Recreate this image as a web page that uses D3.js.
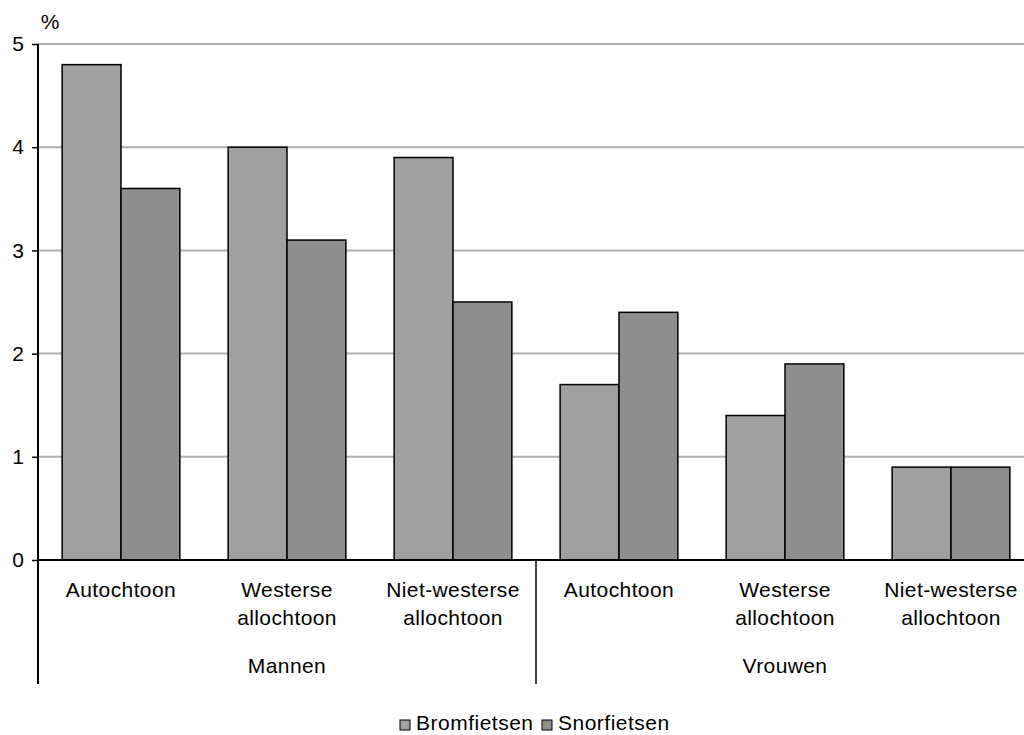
<!DOCTYPE html>
<html><head><meta charset="utf-8">
<script src="https://cdn.jsdelivr.net/npm/d3@7"></script>
<style>body{margin:0;background:#fff}svg{display:block;font-family:"Liberation Sans",Arial,sans-serif}</style>
</head><body><svg id="c" width="1024" height="735"></svg>
<script>
const groups = ["Mannen", "Vrouwen"];
const categories = ["Autochtoon", "Westerse allochtoon", "Niet-westerse allochtoon",
                    "Autochtoon", "Westerse allochtoon", "Niet-westerse allochtoon"];
const categoryLines = [["Autochtoon"], ["Westerse", "allochtoon"], ["Niet-westerse", "allochtoon"],
                       ["Autochtoon"], ["Westerse", "allochtoon"], ["Niet-westerse", "allochtoon"]];
const seriesNames = ["Bromfietsen", "Snorfietsen"];
const bromfietsen = [4.8, 4.0, 3.9, 1.7, 1.4, 0.9];
const snorfietsen = [3.6, 3.1, 2.5, 2.4, 1.9, 0.9];
const yTicks = [0, 1, 2, 3, 4, 5];
const colors = ["#a0a0a0", "#8e8e8e"];

const svg = d3.select("#c");
const mLeft = 38, mRight = 1034, mTop = 44, mBottom = 560;
const x = d3.scaleBand().domain(d3.range(categories.length)).range([mLeft, mRight]);
const y = d3.scaleLinear().domain([0, 5]).range([mBottom, mTop]);
const inner = d3.scaleBand().domain([0, 1]).range([0, x.bandwidth()]).paddingInner(0).paddingOuter(0.41);

// gridlines
svg.append("g").selectAll("line").data(yTicks.filter(d => d > 0)).join("line")
  .attr("x1", mLeft).attr("x2", 1024).attr("y1", d => y(d)).attr("y2", d => y(d))
  .attr("stroke", "#b0b0b0").attr("stroke-width", 2);

// bars
const series = [bromfietsen, snorfietsen];
series.forEach((vals, s) => {
  svg.append("g").selectAll("rect").data(vals).join("rect")
    .attr("x", (d, i) => x(i) + inner(s))
    .attr("y", d => y(d))
    .attr("width", inner.bandwidth())
    .attr("height", d => y(0) - y(d))
    .attr("fill", colors[s]).attr("stroke", "#000").attr("stroke-width", 1.5);
});

// x axis baseline
svg.append("line").attr("x1", mLeft).attr("x2", 1024).attr("y1", y(0)).attr("y2", y(0))
  .attr("stroke", "#000").attr("stroke-width", 2);

// y axis
const yAxis = d3.axisLeft(y).tickValues(yTicks).tickSize(6).tickPadding(8).tickFormat(d3.format("d"));
const ya = svg.append("g").attr("transform", `translate(${mLeft},0)`).call(yAxis);
ya.select(".domain").remove();
ya.selectAll(".tick line").attr("stroke", "#000").attr("stroke-width", 1.5);
ya.selectAll("text").attr("font-size", 21).attr("fill", "#000").attr("font-family", "Liberation Sans, Arial, sans-serif");
svg.append("line").attr("x1", mLeft).attr("x2", mLeft).attr("y1", mTop).attr("y2", 684)
  .attr("stroke", "#000").attr("stroke-width", 2);

// group separator
svg.append("line").attr("x1", x(3)).attr("x2", x(3)).attr("y1", y(0)).attr("y2", 684)
  .attr("stroke", "#000").attr("stroke-width", 1.5);

svg.append("text").attr("x", 50).attr("y", 29).attr("font-size", 21).attr("text-anchor", "middle").text("%");

// category labels
const cl = svg.append("g").attr("font-size", 21).attr("text-anchor", "middle").attr("fill", "#000");
categoryLines.forEach((lines, i) => {
  lines.forEach((t, j) => {
    cl.append("text").attr("x", x(i) + x.bandwidth() / 2).attr("y", 597 + j * 28).attr("letter-spacing", 0.4).text(t);
  });
});
groups.forEach((g, k) => {
  cl.append("text").attr("x", (x(k * 3) + x(k * 3 + 2) + x.bandwidth()) / 2).attr("y", 673)
    .attr("letter-spacing", 0.4).text(g);
});

// legend
const lg = svg.append("g").attr("font-size", 21);
const legendBox = [400, 542];
seriesNames.forEach((n, s) => {
  lg.append("rect").attr("x", legendBox[s]).attr("y", 720).attr("width", 10).attr("height", 10)
    .attr("fill", colors[s]).attr("stroke", "#000").attr("stroke-width", 1);
  lg.append("text").attr("x", legendBox[s] + 16).attr("y", 730).attr("letter-spacing", 0.5).text(n);
});
</script></body></html>
